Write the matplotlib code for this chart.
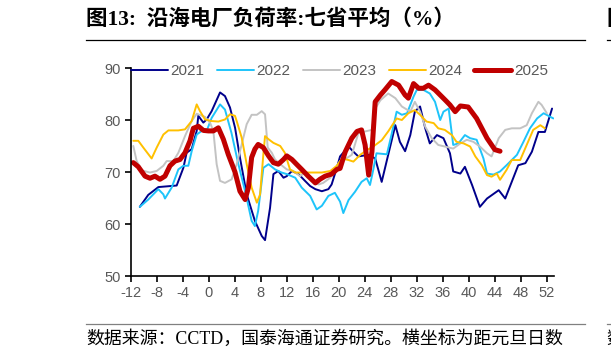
import matplotlib
matplotlib.use("Agg")
import matplotlib.pyplot as plt
from matplotlib.lines import Line2D

plt.rcParams["axes.unicode_minus"] = False

# 负荷率 (%), x = weeks from New Year
x2021 = [-10.6, -9.3, -7.75, -4.93, -3.9, -3.4, -2.62, -1.85, -1.6, -0.83, -0.32, 0.45, 1.74, 2.5, 3.27,
         4.05, 4.8, 5.84, 7.1, 8.15, 8.66, 9.43, 9.95, 10.7, 11.5, 12.0, 12.8, 13.8, 14.8, 15.6, 16.4,
         17.4, 18.4, 18.9, 19.7, 20.2, 21.5, 22.25, 23.0, 24.6, 25.6, 26.6, 27.6, 28.7, 29.4, 30.2,
         31.0, 31.7, 32.5, 33.3, 34.0, 35.1, 36.1, 37.1, 37.6, 38.7, 39.4, 40.5, 41.7, 42.8, 44.6,
         45.6, 46.6, 47.6, 48.7, 49.7, 50.7, 51.7, 52.8]
y2021 = [63.3, 65.6, 67.1, 67.4, 70.8, 73.7, 74.4, 77.9, 80.8, 79.5, 80.1, 81.7, 85.3, 84.6, 82.4,
         78.5, 72.8, 65.7, 60.6, 57.7, 56.9, 63.1, 69.6, 70.2, 68.9, 69.2, 70.2, 69.6, 68.3, 67.3, 66.7,
         66.3, 66.7, 67.6, 70.8, 73.0, 74.9, 73.9, 73.0, 73.3, 72.6, 68.1, 73.3, 79.0, 75.8, 74.0,
         77.1, 81.6, 82.6, 78.4, 75.5, 77.1, 76.5, 73.6, 70.1, 69.7, 71.0, 67.5, 63.3, 64.9, 66.5,
         64.9, 68.1, 71.3, 71.7, 73.9, 77.7, 77.7, 82.2]

x2022 = [-10.6, -9.3, -7.75, -6.98, -6.73, -5.7, -4.67, -3.9, -3.14, -2.62, -1.85, -1.08, -0.32, 0.45,
         1.74, 2.5, 3.5, 4.56, 5.6, 6.6, 7.1, 7.6, 8.4, 9.2, 10.2, 11.2, 12.0, 13.3, 14.3, 15.6, 16.6,
         17.4, 18.4, 19.4, 20.2, 20.7, 21.5, 22.5, 23.5, 24.3, 24.8, 25.3, 25.8, 27.4, 28.15, 28.9,
         29.7, 30.5, 31.5, 32.0, 33.0, 34.0, 34.8, 35.6, 36.1, 36.9, 37.6, 38.4, 39.4, 40.2, 41.2,
         42.25, 42.8, 43.8, 44.8, 45.8, 46.6, 47.4, 48.4, 49.4, 50.5, 51.5, 53.0]
y2022 = [63.3, 64.7, 66.7, 65.7, 64.9, 67.0, 70.5, 71.2, 71.2, 74.0, 77.2, 77.9, 77.9, 80.4,
         83.0, 82.0, 77.5, 71.5, 66.3, 60.6, 59.6, 62.5, 70.8, 71.5, 70.5, 69.9, 69.6, 68.9, 67.0, 65.4, 62.8,
         63.5, 65.4, 66.0, 64.3, 62.1, 64.6, 66.2, 68.1, 68.8, 67.5, 70.4, 73.6, 73.4, 77.4, 81.6,
         81.0, 81.3, 84.5, 85.8, 85.8, 85.1, 83.5, 80.0, 81.6, 82.2, 75.2, 75.5, 77.1, 76.5, 76.2,
         72.6, 69.7, 69.5, 70.1, 71.3, 72.3, 73.3, 75.8, 78.4, 80.3, 81.3, 80.3]

x2023 = [-11.6, -11.08, -10.3, -9.03, -8.0, -6.98, -6.47, -5.44, -4.67, -3.65, -2.62, -1.85, -0.57, 0.2,
         0.71, 1.22, 1.74, 2.5, 3.53, 4.3, 5.07, 5.84, 6.6, 7.4, 8.15, 8.66, 9.07, 9.7, 10.2, 11.0,
         12.0, 13.0, 14.05, 14.8, 15.8, 16.9, 17.6, 18.7, 19.4, 20.2, 21.0, 22.0, 23.0, 24.05, 25.1,
         25.6, 26.4, 27.6, 28.7, 29.7, 31.0, 31.7, 32.5, 33.3, 34.3, 35.3, 36.3, 37.6, 38.7, 39.7,
         40.7, 41.7, 42.8, 43.5, 44.6, 45.6, 46.6, 47.9, 48.9, 49.7, 50.7, 51.2, 52.0]
y2023 = [75.0, 72.1, 70.3, 69.9, 70.2, 71.2, 72.1, 72.1, 73.7, 76.9, 79.8, 81.2, 80.6, 79.5,
         77.9, 71.5, 68.3, 67.9, 68.6, 71.5, 75.3, 79.2, 81.0, 81.0, 81.7, 81.1, 74.7, 73.7, 72.4, 71.5,
         70.5, 70.2, 69.2, 69.9, 68.3, 67.6, 67.9, 68.9, 70.5, 72.1, 72.5, 73.3, 77.4, 77.8, 78.1,
         82.2, 83.8, 85.1, 84.2, 82.6, 81.6, 83.5, 81.6, 78.7, 76.5, 75.2, 74.9, 74.5, 75.5, 76.2,
         75.8, 74.9, 73.6, 73.0, 76.5, 78.1, 78.4, 78.4, 79.0, 81.3, 83.5, 82.9, 81.3]

x2024 = [-11.6, -10.83, -10.06, -8.78, -8.0, -6.98, -6.2, -4.67, -3.65, -2.62, -1.85, -1.34, -0.57, 0.45,
         1.48, 2.5, 3.27, 4.04, 4.3, 5.07, 5.84, 6.6, 7.4, 7.9, 8.4, 8.66, 9.2, 9.95, 11.0, 11.7, 12.5,
         13.3, 15.8, 17.4, 18.7, 19.7, 20.5, 21.5, 22.25, 23.3, 24.3, 25.3, 26.6, 27.6, 28.9, 29.7,
         30.7, 31.7, 32.5, 33.5, 34.6, 35.3, 36.3, 37.4, 38.1, 39.2, 40.2, 41.0, 42.0, 42.8, 43.5,
         44.3, 44.8, 45.8, 46.6, 47.9, 48.9, 49.9, 51.0, 51.7]
y2024 = [76.0, 76.0, 74.7, 72.6, 74.7, 77.2, 78.0, 78.0, 78.2, 79.8, 83.0, 81.7, 80.1, 79.8,
         79.7, 80.1, 81.1, 80.8, 79.8, 76.6, 71.5, 67.0, 64.1, 65.7, 73.4, 76.9, 76.3, 75.6, 75.0, 73.7, 70.5,
         69.9, 69.9, 69.9, 70.2, 71.2, 72.6, 72.3, 72.0, 73.3, 74.2, 74.9, 76.1, 77.8, 80.3, 80.0,
         81.3, 81.9, 81.0, 79.7, 79.4, 78.4, 78.1, 77.1, 75.8, 75.5, 74.9, 73.0, 71.3, 69.4, 69.1,
         69.7, 68.5, 70.4, 72.3, 72.3, 75.2, 78.1, 79.0, 78.4]

x2025 = [-11.6, -10.83, -9.8, -9.03, -8.27, -7.5, -6.73, -5.96, -5.19, -4.42, -3.65, -2.88, -2.37, -1.6,
         -0.83, -0.06, 0.71, 1.48, 2.25, 3.0, 4.04, 4.8, 5.6, 6.1, 6.6, 7.1, 7.6, 8.4, 9.2, 9.95, 10.7,
         11.5, 12.0, 12.8, 13.5, 14.3, 15.3, 16.4, 17.1, 17.9, 18.9, 19.7, 20.2, 21.0, 22.0, 22.8,
         23.5, 24.05, 24.6, 25.1, 25.6, 26.4, 27.1, 28.15, 29.2, 30.2, 30.7, 31.5, 32.3, 33.0, 33.8,
         34.8, 35.6, 36.4, 37.1, 37.9, 38.7, 39.9, 41.2, 42.8, 44.0, 44.8]
y2025 = [71.8, 71.0, 69.2, 68.8, 69.2, 68.6, 69.2, 71.2, 72.1, 72.4, 73.7, 76.0, 78.4, 78.8,
         78.0, 77.9, 77.9, 78.5, 76.3, 73.4, 70.0, 66.3, 64.7, 67.0, 72.8, 74.4, 75.3, 74.7, 73.1, 71.8, 71.5,
         72.4, 73.1, 72.4, 71.5, 70.5, 69.2, 67.9, 68.6, 69.2, 69.6, 70.5, 70.7, 73.9, 76.5, 77.8,
         78.1, 75.2, 69.4, 73.9, 83.5, 84.8, 85.8, 87.4, 86.7, 84.8, 84.2, 87.0, 86.1, 86.1, 86.7,
         85.8, 84.8, 83.8, 82.9, 81.6, 82.7, 82.5, 80.3, 76.5, 74.3, 74.0]

years = ["2021", "2022", "2023", "2024", "2025"]
xs = [x2021, x2022, x2023, x2024, x2025]
ys = [y2021, y2022, y2023, y2024, y2025]
colors = ["#00008B", "#1EC4FA", "#C3C3C3", "#FFC000", "#C00000"]
widths = [1.4, 1.4, 1.4, 1.4, 3.6]

xticks = list(range(-12, 53, 4))
yticks = [50, 60, 70, 80, 90]

W, H = 611, 354
fig = plt.figure(figsize=(W / 100, H / 100), dpi=100)
ax = fig.add_axes([130.7 / W, 1 - 276 / H, (554 - 130.7) / W, (276 - 68) / H])

for x, y, c, lw, lab in zip(xs, ys, colors, widths, years):
    ax.plot(x, y, color=c, lw=lw, label=lab, solid_capstyle="round", solid_joinstyle="round")

ax.set_xlim(-12, 53.1)
ax.set_ylim(50, 90)
ax.set_xticks(xticks)
ax.set_yticks(yticks)
for s in ["top", "right"]:
    ax.spines[s].set_visible(False)
for s in ["left", "bottom"]:
    ax.spines[s].set_linewidth(1.2)
ax.tick_params(axis="both", direction="out", length=4, width=1.2, labelsize=10.5,
               labelcolor="#595959", pad=3)
for t in ax.get_xticklabels() + ax.get_yticklabels():
    t.set_fontfamily("Liberation Sans")

leg = ax.legend(loc="center left", bbox_to_anchor=(0.0, 0.985), ncol=5, frameon=False,
                handlelength=2.42, handletextpad=0.2, columnspacing=0.78, borderpad=0,
                borderaxespad=0, prop={"family": "Liberation Sans", "size": 11})
for t in leg.get_texts():
    t.set_color("#595959")

cjk = ["Liberation Serif", "Noto Sans CJK SC"]
fig.text(86 / W, 1 - 20 / H, "图13:  沿海电厂负荷率:七省平均（%）", family=cjk,
         fontsize=15.5, fontweight="bold", va="center", ha="left")
fig.add_artist(Line2D([86 / W, 585 / W], [1 - 40 / H, 1 - 40 / H], color="black", lw=0.9))
fig.add_artist(Line2D([607 / W, 1], [1 - 40 / H, 1 - 40 / H], color="black", lw=0.9))
fig.text(606 / W, 1 - 20 / H, "图", family=cjk, fontsize=15.5, fontweight="bold",
         va="center", ha="left")

fig.add_artist(Line2D([86 / W, 585 / W], [1 - 324 / H, 1 - 324 / H], color="#808080", lw=0.9))
fig.add_artist(Line2D([607 / W, 1], [1 - 324 / H, 1 - 324 / H], color="#808080", lw=0.9))
fig.text(86 / W, 1 - 339 / H, "数据来源：CCTD，国泰海通证券研究。横坐标为距元旦日数", family=cjk,
         fontsize=12.9, va="center", ha="left")
fig.text(606 / W, 1 - 339 / H, "数", family=cjk, fontsize=12.9, va="center", ha="left")

fig.savefig("out.png", dpi=100)
